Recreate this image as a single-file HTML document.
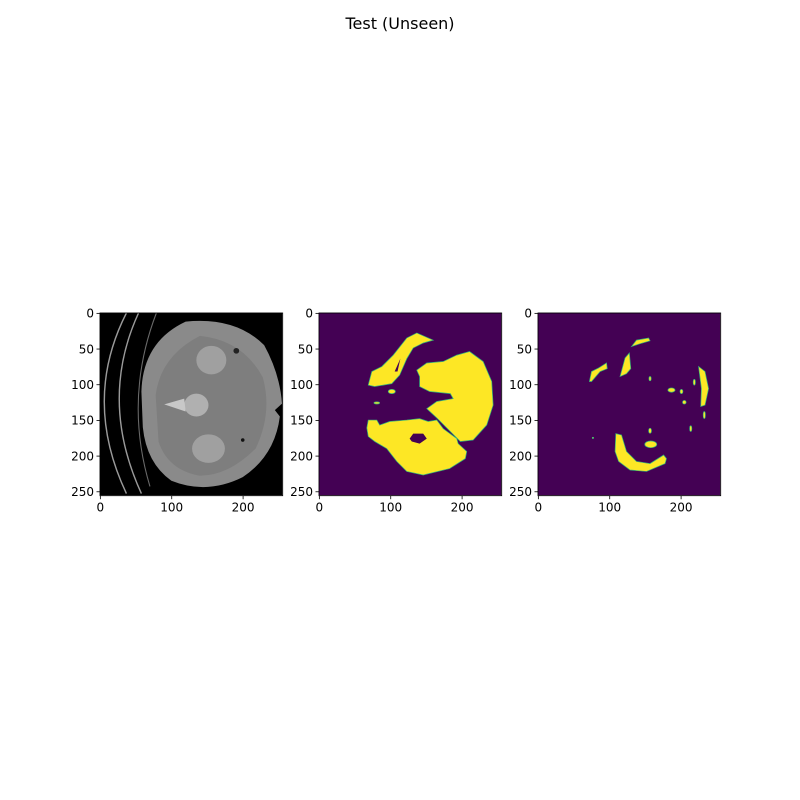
<!DOCTYPE html>
<html><head><meta charset="utf-8"><style>
body{margin:0;background:#fff;}
svg{display:block;font-family:"DejaVu Sans","Liberation Sans",sans-serif;}
</style></head><body>
<svg id="fig" width="800" height="800" viewBox="0 0 800 800">
<rect width="800" height="800" fill="#fff"/>
<text x="400" y="29" font-size="16" text-anchor="middle">Test (Unseen)</text>

<defs>
<clipPath id="c"><rect x="-0.5" y="-0.5" width="256" height="256"/></clipPath>
</defs>

<!-- Panel 1: CT -->
<g transform="translate(100,313) scale(0.7137)">
<g clip-path="url(#c)">
<rect x="-0.5" y="-0.5" width="256" height="256" fill="#000"/>
<path d="M37,0 Q-25,122 37,253" fill="none" stroke="#9a9a9a" stroke-width="2"/>
<path d="M54,0 Q-2,122 58,253" fill="none" stroke="#9a9a9a" stroke-width="2"/>
<path d="M79,0 Q33,120 70,243" fill="none" stroke="#6a6a6a" stroke-width="1.5"/>
<path d="M58,110 Q60,40 120,12 Q190,5 230,45 Q252,85 255,127 L245,136 L252,145 Q245,200 200,230 Q150,255 100,235 Q65,210 60,160 Z" fill="#8a8a8a"/>
<path d="M78,115 Q85,60 140,32 Q200,38 228,90 Q242,140 218,190 Q180,228 140,228 Q95,220 82,180 Z" fill="#7e7e7e"/>
<ellipse cx="156" cy="66" rx="21" ry="20" fill="#a0a0a0"/>
<ellipse cx="152" cy="190" rx="23" ry="20" fill="#a0a0a0"/>
<ellipse cx="135" cy="129" rx="17" ry="16" fill="#b0b0b0"/>
<path d="M90,128 L118,120 L120,138 Z" fill="#c8c8c8"/>
<circle cx="191" cy="53" r="4" fill="#222"/>
<circle cx="200" cy="178" r="2.5" fill="#111"/>
</g></g>

<!-- Panel 2 -->
<g transform="translate(319,313) scale(0.7137)">
<g clip-path="url(#c)">
<rect x="-0.5" y="-0.5" width="256" height="256" fill="#440154"/>
<g fill="#fde725" stroke="#35b779" stroke-width="1">
<path d="M69,101 L74,82 L88,75 L104,59 L123,35 L137,28 L160,38 L146,42 L132,49 L123,64 L113,87 L102,99 L78,103 Z"/>
<path d="M141,89 L137,80 L151,70 L174,68 L193,59 L211,54 L230,68 L242,96 L244,129 L235,157 L216,178 L198,180 L184,166 L165,147 L151,134 L165,124 L188,120 L184,113 L155,110 L141,103 Z"/>
<path d="M67,161 L69,150 L81,150 L85,157 L99,152 L123,150 L141,148 L153,152 L165,150 L174,162 L193,176 L195,183 L207,194 L205,204 L183,218 L146,227 L123,222 L109,208 L95,190 L78,180 L69,173 Z"/>
<ellipse cx="102" cy="110" rx="5" ry="3"/>
<ellipse cx="81" cy="126" rx="4" ry="1.5"/>
</g>
<g fill="#440154">
<path d="M106,82 L114,64 L110,82 Z"/>
<path d="M127,176 L132,169 L146,169 L151,176 L141,183 L130,180 Z"/>
</g>
</g></g>

<!-- Panel 3 -->
<g transform="translate(538,313) scale(0.7137)">
<g clip-path="url(#c)">
<rect x="-0.5" y="-0.5" width="256" height="256" fill="#440154"/>
<g fill="#fde725" stroke="#35b779" stroke-width="1">
<path d="M131,47 L138,38 L155,35 L157,39 L143,43 Z"/>
<path d="M72,96 L75,82 L85,77 L96,70 L97,78 L87,82 L75,96 Z"/>
<path d="M115,89 L122,63 L128,56 L130,78 L124,85 Z"/>
<path d="M225,75 L234,82 L239,106 L234,129 L228,131 L229,106 Z"/>
<path d="M109,169 L117,171 L124,194 L138,208 L157,211 L176,199 L180,204 L178,211 L152,222 L129,220 L113,208 L108,194 Z"/>
<ellipse cx="158" cy="184" rx="8.4" ry="4.7"/>
<ellipse cx="187" cy="108" rx="5" ry="3"/>
<ellipse cx="201" cy="110" rx="2" ry="3"/>
<ellipse cx="205" cy="125" rx="2.5" ry="2.5"/>
<ellipse cx="157" cy="92" rx="1.5" ry="3"/>
<ellipse cx="157" cy="165" rx="2" ry="3.5"/>
<ellipse cx="219" cy="97" rx="1.5" ry="4"/>
<ellipse cx="214" cy="162" rx="1.5" ry="4"/>
<ellipse cx="233" cy="143" rx="1.5" ry="5"/>
<ellipse cx="77" cy="175" rx="1" ry="1"/>
</g>
</g></g>

<g id="axes"></g>
</svg>
<script>
const xTicks=[0,100,200];
const yTicks=[0,50,100,150,200,250];
const panelLefts=[100,319,538];
const top0=313, sc=0.7137, sizePx=256*sc;
const ns="http://www.w3.org/2000/svg";
const g=document.getElementById('axes');
function mk(t,a){const e=document.createElementNS(ns,t);for(const k in a)e.setAttribute(k,a[k]);g.appendChild(e);return e;}
panelLefts.forEach((L,pi)=>{
  const fr=mk('rect',{x:L,y:top0,width:sizePx,height:sizePx,fill:'none',stroke:'#000','stroke-width':0.8});
  
  
  xTicks.forEach(v=>{
    const x=L+(v+0.5)*sc, y=top0+sizePx;
    const l=mk('line',{x1:x,x2:x,y1:y,y2:y+3.5,stroke:'#000','stroke-width':0.8});
    
    
    const t=mk('text',{x:x,y:y+16,'font-size':12,'text-anchor':'middle'});
    t.textContent=v;
    
    
  });
  yTicks.forEach(v=>{
    const y=top0+(v+0.5)*sc;
    const l=mk('line',{x1:L-3.5,x2:L,y1:y,y2:y,stroke:'#000','stroke-width':0.8});
    
    
    const t=mk('text',{x:L-6,y:y+4.3,'font-size':12,'text-anchor':'end'});
    t.textContent=v;
    
    
  });
});
</script>
</body></html>
